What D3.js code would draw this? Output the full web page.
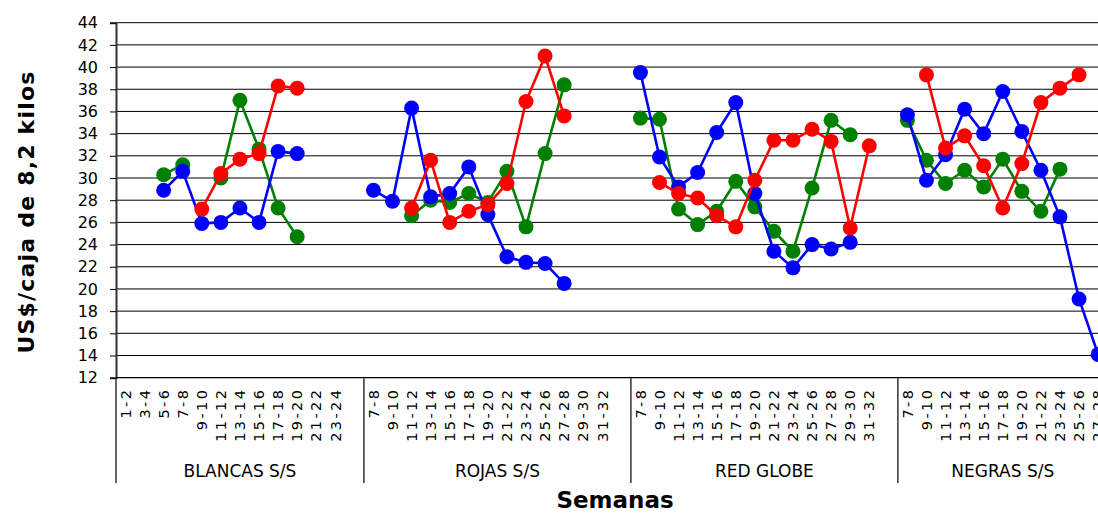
<!DOCTYPE html>
<html>
<head>
<meta charset="utf-8">
<script src="https://cdn.jsdelivr.net/npm/d3@7"></script>
<style>
  html, body { margin: 0; padding: 0; background: #fff; overflow: hidden; }
  svg { display: block; }
</style>
</head>
<body>
<svg id="chart" width="1098" height="513"></svg>
<script>
// Week ranges per variety group
const groups = ["BLANCAS S/S", "ROJAS S/S", "RED GLOBE", "NEGRAS S/S"];
const weeksBlancas  = ["1-2","3-4","5-6","7-8","9-10","11-12","13-14","15-16","17-18","19-20","21-22","23-24"];
const weeksRojas    = ["7-8","9-10","11-12","13-14","15-16","17-18","19-20","21-22","23-24","25-26","27-28","29-30","31-32"];
const weeksRedGlobe = ["7-8","9-10","11-12","13-14","15-16","17-18","19-20","21-22","23-24","25-26","27-28","29-30","31-32"];
const weeksNegras   = ["7-8","9-10","11-12","13-14","15-16","17-18","19-20","21-22","23-24","25-26","27-28"];

// US$ per 8.2 kg box, three seasons per group (null = no price)
const blancasAzul  = [null,null,28.9,30.6,25.9,26.0,27.3,26.0,32.4,32.2,null,null];
const blancasVerde = [null,null,30.3,31.2,null,30.0,37.0,32.6,27.3,24.7,null,null];
const blancasRojo  = [null,null,null,null,27.2,30.4,31.7,32.2,38.3,38.1,null,null];

const rojasAzul  = [28.9,27.9,36.3,28.3,28.6,31.0,26.7,22.9,22.4,22.3,20.5,null,null];
const rojasVerde = [null,null,26.6,28.0,27.8,28.6,27.8,30.6,25.6,32.2,38.4,null,null];
const rojasRojo  = [null,null,27.3,31.6,26.0,27.0,27.6,29.5,36.9,41.0,35.6,null,null];

const redGlobeAzul  = [39.5,31.9,29.2,30.5,34.1,36.8,28.6,23.4,21.9,24.0,23.6,24.2,null];
const redGlobeVerde = [35.4,35.3,27.2,25.8,27.0,29.7,27.4,25.2,23.4,29.1,35.2,33.9,null];
const redGlobeRojo  = [null,29.6,28.6,28.2,26.6,25.6,29.8,33.4,33.4,34.4,33.3,25.5,32.9];

const negrasAzul  = [35.7,29.8,32.1,36.2,34.0,37.8,34.2,30.7,26.5,19.1,14.1];
const negrasVerde = [35.2,31.6,29.5,30.7,29.2,31.7,28.8,27.0,30.8,null,null];
const negrasRojo  = [null,39.3,32.7,33.8,31.1,27.3,31.3,36.8,38.1,39.3,null];

const yTicks = d3.range(12, 45, 2);

// Assemble the group tables
const groupWeeks = [weeksBlancas, weeksRojas, weeksRedGlobe, weeksNegras];
const seriesDefs = [
  { color: "#008000", values: [blancasVerde, rojasVerde, redGlobeVerde, negrasVerde] },
  { color: "#0000ff", values: [blancasAzul,  rojasAzul,  redGlobeAzul,  negrasAzul] },
  { color: "#ff0000", values: [blancasRojo,  rojasRojo,  redGlobeRojo,  negrasRojo] }
];

// Slots: every week of each group, plus one empty slot between groups
const slots = [];
const groupSpans = [];
groupWeeks.forEach((weeks, gi) => {
  const start = slots.length;
  weeks.forEach((w, wi) => slots.push({ key: gi + "|" + w, label: w, gi, wi }));
  if (gi < groupWeeks.length - 1) slots.push({ key: gi + "|blank", label: "", gi, wi: -1 });
  groupSpans.push({ name: groups[gi], start: slots[start].key, end: slots[slots.length - 1].key });
});

const svg = d3.select("#chart");
const x0 = 116, slotW = 19.07;
const x = d3.scaleBand().domain(slots.map(s => s.key)).range([x0, x0 + slots.length * slotW]).padding(0);
const y = d3.scaleLinear().domain([12, 44]).range([377.7, 22.7]);
const xEnd = x0 + slots.length * slotW;

// Horizontal gridlines
svg.append("g").selectAll("line").data(yTicks.filter(t => t > 12)).join("line")
  .attr("x1", x0).attr("x2", xEnd)
  .attr("y1", d => y(d)).attr("y2", d => y(d))
  .attr("stroke", "#000").attr("stroke-width", 1);

// Y axis
const yAxis = svg.append("g").attr("transform", `translate(${x0},0)`)
  .call(d3.axisLeft(y).tickValues(yTicks).tickSize(6).tickPadding(12).tickFormat(d3.format("d")));
yAxis.select(".domain").attr("stroke", "#333").attr("stroke-width", 2);
yAxis.selectAll(".tick line").attr("stroke", "#000");
yAxis.selectAll(".tick text")
  .attr("font-family", "DejaVu Sans, sans-serif").attr("font-size", 16).attr("fill", "#000");

// X axis baseline
svg.append("line").attr("x1", x0).attr("x2", xEnd).attr("y1", y(12)).attr("y2", y(12))
  .attr("stroke", "#000").attr("stroke-width", 1.2);

// Group separators
const sepBottom = 483;
const sepXs = [x0];
groupSpans.forEach(g => sepXs.push(x(g.end) + x.bandwidth()));
svg.append("g").selectAll("line").data(sepXs).join("line")
  .attr("x1", d => d).attr("x2", d => d).attr("y1", y(12)).attr("y2", sepBottom)
  .attr("stroke", "#333").attr("stroke-width", 1.5);

// Week labels (rotated)
svg.append("g").selectAll("text").data(slots.filter(s => s.label)).join("text")
  .attr("transform", d => `translate(${x(d.key) + x.bandwidth() / 2},${y(12) + 10}) rotate(-90)`)
  .attr("text-anchor", "end").attr("dy", "0.36em")
  .attr("font-family", "DejaVu Sans, sans-serif").attr("font-size", 14.5)
  .attr("letter-spacing", 2.4)
  .text(d => d.label);

// Group labels
svg.append("g").selectAll("text").data(groupSpans).join("text")
  .attr("x", d => (x(d.start) + x(d.end) + x.bandwidth()) / 2)
  .attr("y", 477)
  .attr("text-anchor", "middle")
  .attr("font-family", "DejaVu Sans, sans-serif").attr("font-size", 17)
  .text(d => d.name);

// Axis titles
svg.append("text").attr("x", 615).attr("y", 508).attr("text-anchor", "middle")
  .attr("font-family", "DejaVu Sans, sans-serif").attr("font-weight", "bold").attr("font-size", 23)
  .text("Semanas");
svg.append("text").attr("transform", "translate(34,212) rotate(-90)").attr("text-anchor", "middle")
  .attr("font-family", "DejaVu Sans, sans-serif").attr("font-weight", "bold").attr("font-size", 22)
  .attr("letter-spacing", 1.2)
  .text("US$/caja de 8,2 kilos");

// Series: lines with round markers
const line = d3.line().defined(d => d.v != null)
  .x(d => x(d.key) + x.bandwidth() / 2).y(d => y(d.v));

seriesDefs.forEach(s => {
  const pts = slots.map(sl => ({ key: sl.key, v: sl.wi >= 0 ? s.values[sl.gi][sl.wi] : null }));
  const g = svg.append("g");
  g.append("path").datum(pts).attr("d", line)
    .attr("fill", "none").attr("stroke", s.color).attr("stroke-width", 2.6).attr("stroke-linejoin", "round");
  g.selectAll("circle").data(pts.filter(p => p.v != null)).join("circle")
    .attr("cx", d => x(d.key) + x.bandwidth() / 2).attr("cy", d => y(d.v))
    .attr("r", 7.5).attr("fill", s.color);
});
</script>
</body>
</html>
